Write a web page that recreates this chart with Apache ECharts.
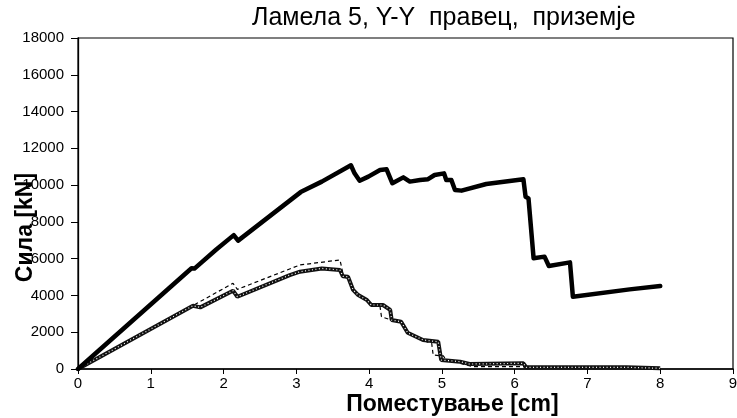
<!DOCTYPE html>
<html>
<head>
<meta charset="utf-8">
<script src="https://cdn.jsdelivr.net/npm/echarts@6/dist/echarts.min.js"></script>
<style>
html,body{margin:0;padding:0;background:#fff;}
#c{width:737px;height:418px;}
</style>
</head>
<body>
<div id="c"></div>
<script>
const titleText = 'Ламела 5, Y-Y  правец,  приземје';
const xName = 'Поместување [cm]';
const yName = 'Сила [kN]';

// Series 1: thick solid
const s1X = [0, 1.56, 1.60, 1.90, 2.14, 2.20, 3.06, 3.35, 3.75, 3.80, 3.87, 3.99, 4.15, 4.24, 4.32, 4.47, 4.56, 4.70, 4.81, 4.90, 5.03, 5.06, 5.13, 5.18, 5.27, 5.61, 6.12, 6.15, 6.19, 6.26, 6.41, 6.47, 6.76, 6.80, 7.58, 8.00];
const s1Y = [0, 5480, 5460, 6500, 7280, 6980, 9620, 10190, 11080, 10640, 10240, 10460, 10820, 10860, 10100, 10420, 10190, 10280, 10320, 10550, 10640, 10280, 10280, 9730, 9700, 10060, 10320, 9370, 9280, 6020, 6110, 5600, 5800, 3930, 4330, 4510];

// Series 2: thick dotted
const s2X = [0, 1.58, 1.68, 2.13, 2.19, 2.91, 3.05, 3.35, 3.60, 3.64, 3.71, 3.78, 3.85, 3.97, 4.03, 4.19, 4.29, 4.31, 4.44, 4.53, 4.74, 4.95, 4.99, 5.25, 5.38, 6.12, 6.16, 7.54, 8.00];
const s2Y = [0, 3440, 3350, 4260, 3930, 5110, 5290, 5470, 5380, 5040, 5020, 4300, 4020, 3750, 3480, 3480, 3210, 2660, 2570, 1970, 1580, 1480, 490, 400, 270, 310, 90, 90, 40];

// Series 3: thin dashed
const s3X = [0, 1.58, 2.13, 2.19, 3.05, 3.60, 3.64, 3.74, 3.76, 4.01, 4.15, 4.17, 4.31, 4.45, 4.54, 4.79, 4.86, 4.88, 5.02, 5.06, 5.34, 5.43, 6.12, 6.16, 8.00];
const s3Y = [0, 3450, 4660, 4330, 5660, 5930, 5200, 4660, 4390, 3570, 3390, 2840, 2660, 2570, 1970, 1480, 1400, 760, 710, 490, 220, 130, 130, 40, 0];

const zip = (xs, ys) => xs.map((x, i) => [x, ys[i]]);
const FONT = '"Liberation Sans", Arial, sans-serif';

const chart = echarts.init(document.getElementById('c'), null, {renderer: 'canvas'});
chart.setOption({
  animation: false,
  backgroundColor: '#fff',
  title: {
    text: titleText,
    left: 247, top: 1,
    textStyle: {fontFamily: FONT, fontSize: 25, fontWeight: 'normal', color: '#000'}
  },
  grid: {left: 78, right: 4, top: 38, bottom: 49, containLabel: false, outerBoundsMode: 'none',
         show: true, borderColor: '#000', borderWidth: 1.2, backgroundColor: 'transparent'},
  xAxis: {
    type: 'value', min: 0, max: 9, interval: 1,
    name: xName, nameLocation: 'middle', nameGap: 24, nameMoveOverlap: false,
    nameTextStyle: {fontFamily: FONT, fontSize: 23, fontWeight: 'bold', color: '#000', padding: [0, 0, 0, 94]},
    axisLine: {show: true, onZero: false, lineStyle: {color: '#000', width: 1.6}},
    axisTick: {show: true, inside: false, length: 5, lineStyle: {color: '#000'}},
    axisLabel: {fontFamily: FONT, fontSize: 15, color: '#000', margin: 7},
    splitLine: {show: false}
  },
  yAxis: {
    type: 'value', min: 0, max: 18000, interval: 2000,
    name: yName, nameLocation: 'middle', nameRotate: 90, nameGap: 41, nameMoveOverlap: false,
    nameTextStyle: {fontFamily: FONT, fontSize: 23, fontWeight: 'bold', color: '#000', padding: [0, 48, 0, 0]},
    axisLine: {show: true, onZero: false, lineStyle: {color: '#000', width: 1.3}},
    axisTick: {show: true, inside: false, length: 7, lineStyle: {color: '#000'}},
    axisLabel: {fontFamily: FONT, fontSize: 15, color: '#000', margin: 14, formatter: v => String(v)},
    splitLine: {show: false}
  },
  series: [
    {type: 'line', data: zip(s3X, s3Y), symbol: 'none', z: 3,
     lineStyle: {color: '#000', width: 1.2, type: [4, 3]}},
    {type: 'line', data: zip(s2X, s2Y), symbol: 'none', z: 4,
     lineStyle: {color: '#111', width: 4}},
    {type: 'line', data: zip(s2X, s2Y), symbol: 'none', z: 5, silent: true,
     lineStyle: {color: '#fff', width: 1.2, type: [1, 2.5]}},
    {type: 'line', data: zip(s1X, s1Y), symbol: 'none', z: 6,
     lineStyle: {color: '#000', width: 4.5, join: 'round', cap: 'round'}}
  ]
});
</script>
</body>
</html>
